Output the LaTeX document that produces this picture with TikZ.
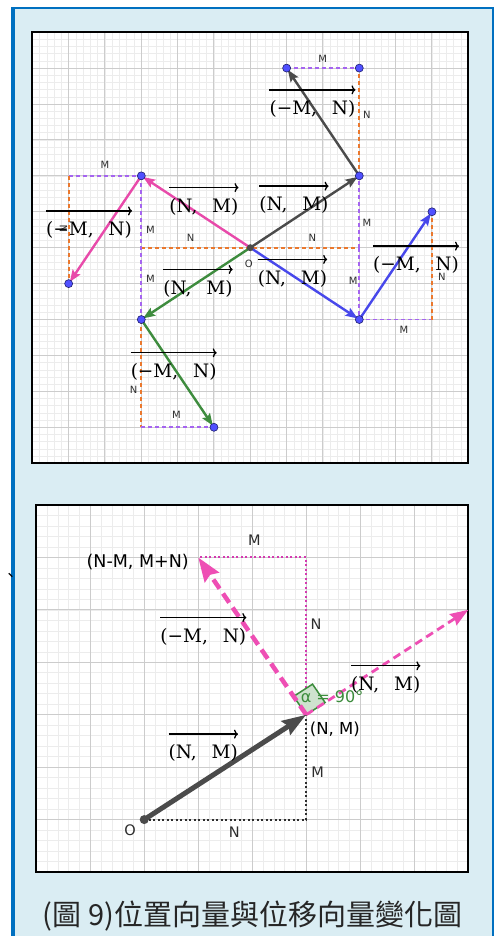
\documentclass[tikz,border=0pt]{standalone}
\usepackage{fontspec}
\setmainfont{DejaVu Serif}
\setsansfont{DejaVu Sans}
\newfontfamily\cjkfont{Noto Sans CJK TC}
\usetikzlibrary{arrows.meta}

\definecolor{boxblue}{RGB}{0,112,192}
\definecolor{boxbg}{RGB}{218,237,243}
\definecolor{gridmin}{RGB}{236,236,236}
\definecolor{gridmaj}{RGB}{204,204,204}
\definecolor{dashor}{RGB}{235,120,45}
\definecolor{dashpu}{RGB}{165,100,240}
\definecolor{vecgray}{RGB}{75,75,75}
\definecolor{vecpink}{RGB}{232,74,170}
\definecolor{vecgreen}{RGB}{62,140,62}
\definecolor{vecblue}{RGB}{72,72,235}
\definecolor{ptblue}{RGB}{80,80,255}
\definecolor{ptedge}{RGB}{30,30,110}
\definecolor{magline}{RGB}{238,78,180}
\definecolor{magdot}{RGB}{212,58,176}
\definecolor{anggreen}{RGB}{60,140,60}
\definecolor{labgray}{RGB}{45,45,45}

\tikzset{
  minor/.style={gridmin, line width=0.6pt},
  major/.style={gridmaj, line width=1pt},
  panelframe/.style={black, line width=2pt},
  odash/.style={dashor, line width=1.8pt, dash pattern=on 4pt off 3pt},
  pdash/.style={dashpu, line width=1.8pt, dash pattern=on 4pt off 3pt},
  vec/.style={line width=2.4pt, -{Stealth[length=12pt,width=9pt,inset=2pt]}, shorten >=2pt},
  ptdot/.style={fill=ptblue, draw=ptedge, line width=0.6pt},
  lblS/.style={labgray, font=\sffamily\fontsize{10}{12}\selectfont, inner sep=0pt},
  lblL/.style={labgray, font=\sffamily\fontsize{14.5}{16}\selectfont, inner sep=0pt},
  vlab/.style={font=\fontsize{18.5}{20}\selectfont, inner sep=0pt},
  over/.style={line width=1.3pt, -{To[length=4pt,width=9pt]}},
  kdot/.style={labgray, line width=2pt, dash pattern=on 2pt off 2.5pt},
  mdot/.style={magdot, line width=2pt, dash pattern=on 2pt off 2.5pt},
  mthick/.style={magline, line width=4.5pt, dash pattern=on 11pt off 6pt, -{Stealth[length=24pt,width=17pt,inset=3pt]}},
  mthin/.style={magline, line width=2.8pt, dash pattern=on 8pt off 5pt, -{Stealth[length=18pt,width=13pt,inset=2pt]}},
  gvec/.style={vecgray, line width=5pt, -{Stealth[length=24pt,width=16pt,inset=3pt]}},
}

\begin{document}
\begin{tikzpicture}[x=1pt, y=1pt]
\useasboundingbox (0,0) rectangle (494,936);
\fill[white] (0,0) rectangle (494,936);
\fill[boxblue] (11,0) rectangle (494,929.3);
\fill[boxbg] (15,0) rectangle (491.7,926.6);

% upper panel
\begin{scope}[shift={(250.3pt,688.3pt)}, x=36.33pt, y=35.92pt]
  \fill[white] (-6,-6) rectangle (6,6);
  \draw[minor] (-6,-6) grid[step=0.2] (6,6);
  \draw[major] (-6,-6) grid[step=1] (6,6);
  \draw[panelframe] (-6,-6) rectangle (6,6);

  \coordinate (O) at (0,0);
  \coordinate (A) at (3,2);
  \coordinate (B) at (1,5);
  \coordinate (Bc) at (3,5);
  \coordinate (C) at (-3,2);
  \coordinate (D) at (-5,-1);
  \coordinate (Dc) at (-5,2);
  \coordinate (E) at (-3,-2);
  \coordinate (F) at (-1,-5);
  \coordinate (Fc) at (-3,-5);
  \coordinate (G) at (3,-2);
  \coordinate (H) at (5,1);
  \coordinate (Hc) at (5,-2);
  \coordinate (Ax) at (3,0);
  \coordinate (Cx) at (-3,0);

  \draw[odash] (A) -- (Bc);
  \draw[pdash] (B) -- (Bc);
  \draw[odash] (Cx) -- (Ax);
  \draw[pdash] (Ax) -- (A);
  \draw[pdash] (Ax) -- (G);
  \draw[pdash] (Dc) -- (C);
  \draw[odash] (Dc) -- (D);
  \draw[pdash] (C) -- (E);
  \draw[odash] (E) -- (Fc);
  \draw[pdash] (Fc) -- (F);
  \draw[pdash] (G) -- (Hc);
  \draw[odash] (Hc) -- (H);

  \draw[vec, vecgray] (O) -- (A);
  \draw[vec, vecgray] (A) -- (B);
  \draw[vec, vecpink] (O) -- (C);
  \draw[vec, vecpink] (C) -- (D);
  \draw[vec, vecgreen] (O) -- (E);
  \draw[vec, vecgreen] (E) -- (F);
  \draw[vec, vecblue] (O) -- (G);
  \draw[vec, vecblue] (G) -- (H);

  \foreach \p in {A,B,Bc,C,D,E,F,G,H}
    \draw[ptdot] (\p) circle (4pt);
  \fill[vecgray] (O) circle (3.5pt);

  \node[lblS] (o1) at (-0.04,-0.46) {O};
  \node[lblS] (m1) at (1.99,5.27) {M};
  \node[lblS] (n1) at (3.21,3.69) {N};
  \node[lblS] (m2) at (3.21,0.69) {M};
  \node[lblS] (n2) at (1.71,0.28) {N};
  \node[lblS] (n3) at (-1.64,0.28) {N};
  \node[lblS] (m3) at (-4.0,2.3) {M};
  \node[lblS] (m4) at (-2.75,0.49) {M};
  \node[lblS] (m5) at (-2.75,-0.86) {M};
  \node[lblS, rotate=90] (n4) at (-5.14,0.53) {N};
  \node[lblS] (m6) at (2.83,-0.92) {M};
  \node[lblS] (n5) at (5.27,-0.81) {N};
  \node[lblS] (m7) at (4.23,-2.30) {M};
  \node[lblS] (n6) at (-3.21,-3.97) {N};
  \node[lblS] (m8) at (-2.03,-4.64) {M};

  \node[vlab] (v1) at (1.71,3.86) {(−M,\hspace{0.8em}N)};
  \node[vlab] (v2) at (-1.28,1.14) {(N,\hspace{0.8em}M)};
  \node[vlab] (v3) at (1.20,1.18) {(N,\hspace{0.8em}M)};
  \node[vlab] (v4) at (-4.44,0.49) {(−M,\hspace{0.8em}N)};
  \node[vlab] (v5) at (4.56,-0.49) {(−M,\hspace{0.8em}N)};
  \node[vlab] (v6) at (-1.44,-1.14) {(N,\hspace{0.8em}M)};
  \node[vlab] (v7) at (1.16,-0.86) {(N,\hspace{0.8em}M)};
  \node[vlab] (v8) at (-2.11,-3.46) {(−M,\hspace{0.8em}N)};
  \foreach \v in {v1,v2,v3,v4,v5,v6,v7,v8}
    \draw[over] ([yshift=10.5pt]\v.north west) -- ([yshift=10.5pt]\v.north east);
\end{scope}

% lower panel
\begin{scope}[shift={(144.2pt,116.4pt)}, x=54pt, y=52.43pt]
  \fill[white] (-2,-1) rectangle (6,6);
  \draw[minor] (-2,-1) grid[step=0.2] (6,6);
  \draw[major] (-2,-1) grid[step=1] (6,6);
  \draw[panelframe] (-2,-1) rectangle (6,6);

  \coordinate (Q0) at (0,0);
  \coordinate (Q1) at (3,2);
  \coordinate (Q2) at (1,5);
  \coordinate (Q3) at (3,5);
  \coordinate (Q4) at (6,4);
  \coordinate (Qx) at (3,0);

  \draw[kdot] (Q0) -- (Qx) -- (Q1);
  \draw[mdot] (Q1) -- (Q3) -- (Q2);
  \filldraw[anggreen, fill=anggreen!25, line width=1.5pt]
    (Q1) -- ++(0.35,0.233) -- ++(-0.233,0.35) -- ++(-0.35,-0.233) -- cycle;
  \draw[mthin] (Q1) -- (Q4);
  \draw[mthick] (Q1) -- (Q2);
  \draw[gvec] (Q0) -- (Q1);
  \fill[vecgray] (Q0) circle (4.5pt);

  \node[lblL] (o2) at (-0.26,-0.2) {O};
  \node[lblL] (nb) at (1.67,-0.25) {N};
  \node[lblL] (mb) at (3.21,0.895) {M};
  \node[lblL] (nr) at (3.18,3.72) {N};
  \node[lblL] (mt) at (2.04,5.33) {M};
  \node[lblL, black, font=\sffamily\fontsize{17.5}{19}\selectfont] (p2) at (-0.12,4.92) {(N-M, M+N)};
  \node[lblL, black, font=\sffamily\fontsize{16.5}{18}\selectfont] (p1) at (3.53,1.72) {(N, M)};
  \node[lblL, anggreen, font=\sffamily\fontsize{16}{18}\selectfont] (ang) at (3.48,2.35) {α = 90°};

  \node[vlab] (w1) at (1.094,3.488) {(−M,\hspace{0.8em}N)};
  \node[vlab] (w2) at (4.472,2.567) {(N,\hspace{0.8em}M)};
  \node[vlab] (w3) at (1.094,1.265) {(N,\hspace{0.8em}M)};
  \foreach \v in {w1,w2,w3}
    \draw[over] ([yshift=10.5pt]\v.north west) -- ([yshift=10.5pt]\v.north east);
\end{scope}

\node[anchor=base west, inner sep=0pt, font=\cjkfont\fontsize{16}{18}\selectfont] (mark) at (2.5,354) {、};
\node[font=\cjkfont\fontsize{29}{32}\selectfont, text=black!85] (cap) at (252.5,20) {(圖 9)位置向量與位移向量變化圖};
\end{tikzpicture}
\end{document}
